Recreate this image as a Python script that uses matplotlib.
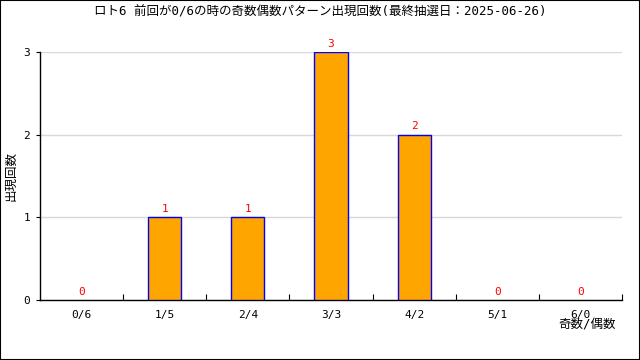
import matplotlib
matplotlib.use("Agg")
import matplotlib.pyplot as plt
from matplotlib.patches import Rectangle

categories = ["0/6", "1/5", "2/4", "3/3", "4/2", "5/1", "6/0"]
counts = [0, 1, 1, 3, 2, 0, 0]
yticks = [0, 1, 2, 3]
title = "ロト6 前回が0/6の時の奇数偶数パターン出現回数(最終抽選日：2025-06-26)"

plt.rcParams['font.family'] = ['DejaVu Sans Mono', 'Noto Sans CJK JP']
plt.rcParams['font.size'] = 8

fig = plt.figure(figsize=(6.4, 3.6), dpi=100)
fig.patches.append(Rectangle((0, 0), 1, 1, transform=fig.transFigure,
                             fill=False, edgecolor='black', linewidth=1.5))
ax = fig.add_axes([40/640, 60/360, 582/640, 248/360])

x = list(range(len(categories)))
lws = [1 if v > 0 else 0 for v in counts]
ax.bar(x, counts, width=0.4, color='#ffa500', edgecolor='#0000ff', linewidth=lws, zorder=3)
for xi, v in zip(x, counts):
    ax.text(xi, v + 0.04, str(v), color='red', ha='center', va='bottom', fontsize=8, clip_on=False)

ax.set_xlim(-0.5, len(categories) - 0.5)
ax.set_ylim(0, 3)
ax.set_yticks(yticks)
ax.yaxis.grid(True, color='#d8d8d8', linewidth=1, zorder=0)
ax.set_axisbelow(True)

ax.set_xticks(x)
ax.set_xticklabels(categories)
ax.tick_params(axis='x', which='major', length=0, pad=7)
ax.set_xticks([i + 0.5 for i in x], minor=True)
ax.tick_params(axis='x', which='minor', direction='in', length=4, width=0.8)
ax.tick_params(axis='y', direction='out', length=3, width=0.8, pad=4)

for s in ['top', 'right']:
    ax.spines[s].set_visible(False)
ax.spines['left'].set_linewidth(1)
ax.spines['bottom'].set_linewidth(1)

fig.text(11/640, 1 - 176/360, "出現回数", rotation=90, ha='center', va='center', fontsize=9)
fig.text(616/640, 1 - 325/360, "奇数/偶数", ha='right', va='center', fontsize=9)
fig.text(0.5, 1 - 12/360, title, ha='center', va='center', fontsize=9)

fig.savefig("out.png", dpi=100)
